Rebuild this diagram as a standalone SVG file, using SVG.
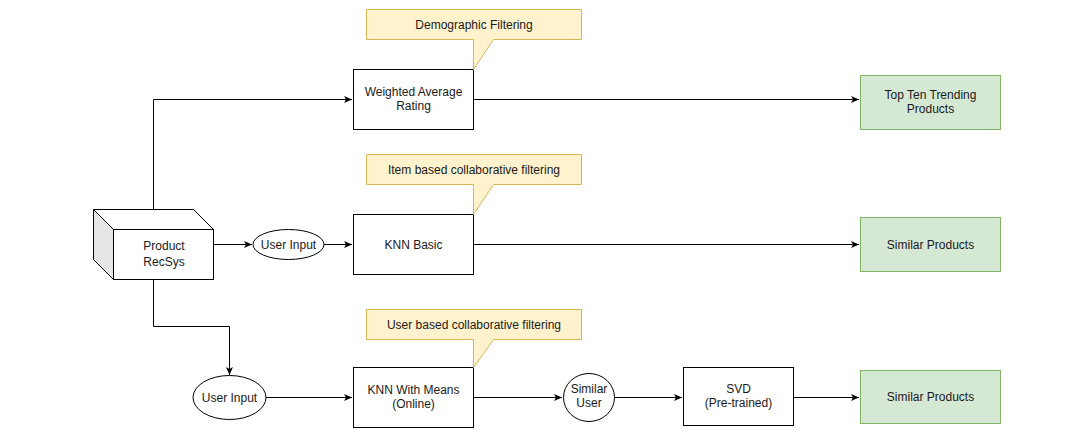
<svg xmlns="http://www.w3.org/2000/svg" width="1072" height="439" viewBox="0 0 1072 439">
<style>
.box{fill:#ffffff;stroke:#000000;stroke-width:1}
.green{fill:#d5e8d4;stroke:#82b366;stroke-width:1}
.note{fill:#fff2cc;stroke:#d6b656;stroke-width:1}
.edge{fill:none;stroke:#000000;stroke-width:1}
text{font-family:"Liberation Sans",Arial,sans-serif;font-size:12px;fill:#1a1a1a;text-anchor:middle}
</style>
<defs>
<marker id="arr" markerWidth="10" markerHeight="10" refX="8" refY="5" orient="auto" markerUnits="userSpaceOnUse">
<path d="M0,1.5 L8,5 L0,8.5 L2,5 Z" fill="#000000"/>
</marker>
</defs>
<rect width="1072" height="439" fill="#ffffff"/>

<g id="connectors">
<polyline class="edge" points="153.5,209 153.5,99.5 352,99.5" marker-end="url(#arr)"/>
<line class="edge" x1="473" y1="99.5" x2="859" y2="99.5" marker-end="url(#arr)"/>
<line class="edge" x1="213" y1="244.5" x2="252" y2="244.5" marker-end="url(#arr)"/>
<line class="edge" x1="324" y1="244.5" x2="352" y2="244.5" marker-end="url(#arr)"/>
<line class="edge" x1="473" y1="244.5" x2="859" y2="244.5" marker-end="url(#arr)"/>
<polyline class="edge" points="153.5,279 153.5,326.5 229.5,326.5 229.5,375" marker-end="url(#arr)"/>
<line class="edge" x1="266" y1="397.5" x2="352" y2="397.5" marker-end="url(#arr)"/>
<line class="edge" x1="473" y1="397.5" x2="562" y2="397.5" marker-end="url(#arr)"/>
<line class="edge" x1="614" y1="397.5" x2="682" y2="397.5" marker-end="url(#arr)"/>
<line class="edge" x1="793" y1="397.5" x2="859" y2="397.5" marker-end="url(#arr)"/>
</g>

<g id="product-recsys">
<path d="M93.5,209.5 L193.5,209.5 L213.5,229.5 L113.5,229.5 Z" fill="#ffffff" stroke="#000000"/>
<path d="M93.5,209.5 L113.5,229.5 L113.5,279.5 L93.5,259.5 Z" fill="#e6e6e6" stroke="#000000"/>
<rect class="box" x="113.5" y="229.5" width="100" height="50"/>
<text x="164" y="250">Product</text>
<text x="164" y="266">RecSys</text>
</g>

<g id="user-input-1">
<ellipse class="box" cx="288.5" cy="244.5" rx="35.5" ry="15"/>
<text x="288.5" y="249">User Input</text>
</g>

<g id="weighted-average">
<rect class="box" x="353.5" y="69.5" width="120" height="60"/>
<text x="413.5" y="96">Weighted Average</text>
<text x="413.5" y="110">Rating</text>
</g>

<g id="note-demographic">
<path class="note" d="M366.5,9.5 L581.5,9.5 L581.5,39.5 L493.5,39.5 L473.5,69.5 L473.5,39.5 L366.5,39.5 Z"/>
<text x="474" y="28.5">Demographic Filtering</text>
</g>

<g id="knn-basic">
<rect class="box" x="353.5" y="214.5" width="120" height="60"/>
<text x="413.5" y="248.5">KNN Basic</text>
</g>

<g id="note-item">
<path class="note" d="M366.5,154.5 L581.5,154.5 L581.5,184.5 L493.5,184.5 L473.5,214.5 L473.5,184.5 L366.5,184.5 Z"/>
<text x="474" y="173.5">Item based collaborative filtering</text>
</g>

<g id="top-ten">
<rect class="green" x="860.5" y="75.5" width="140" height="54"/>
<text x="930.5" y="99">Top Ten Trending</text>
<text x="930.5" y="113">Products</text>
</g>

<g id="similar-products-1">
<rect class="green" x="860.5" y="217.5" width="140" height="54"/>
<text x="930.5" y="248.5">Similar Products</text>
</g>

<g id="user-input-2">
<ellipse class="box" cx="229.5" cy="397.5" rx="36.5" ry="22"/>
<text x="229.5" y="402">User Input</text>
</g>

<g id="knn-means">
<rect class="box" x="353.5" y="367.5" width="120" height="60"/>
<text x="413.5" y="394">KNN With Means</text>
<text x="413.5" y="408">(Online)</text>
</g>

<g id="note-user">
<path class="note" d="M366.5,309.5 L581.5,309.5 L581.5,339.5 L493.5,339.5 L473.5,367.5 L473.5,339.5 L366.5,339.5 Z"/>
<text x="474" y="328.5">User based collaborative filtering</text>
</g>

<g id="similar-user">
<ellipse class="box" cx="589" cy="397.5" rx="25.5" ry="24"/>
<text x="589" y="393">Similar</text>
<text x="589" y="407">User</text>
</g>

<g id="svd">
<rect class="box" x="683.5" y="367.5" width="110" height="58"/>
<text x="738.5" y="393">SVD</text>
<text x="738.5" y="407">(Pre-trained)</text>
</g>

<g id="similar-products-2">
<rect class="green" x="860.5" y="370.5" width="140" height="53"/>
<text x="930.5" y="401">Similar Products</text>
</g>
</svg>
